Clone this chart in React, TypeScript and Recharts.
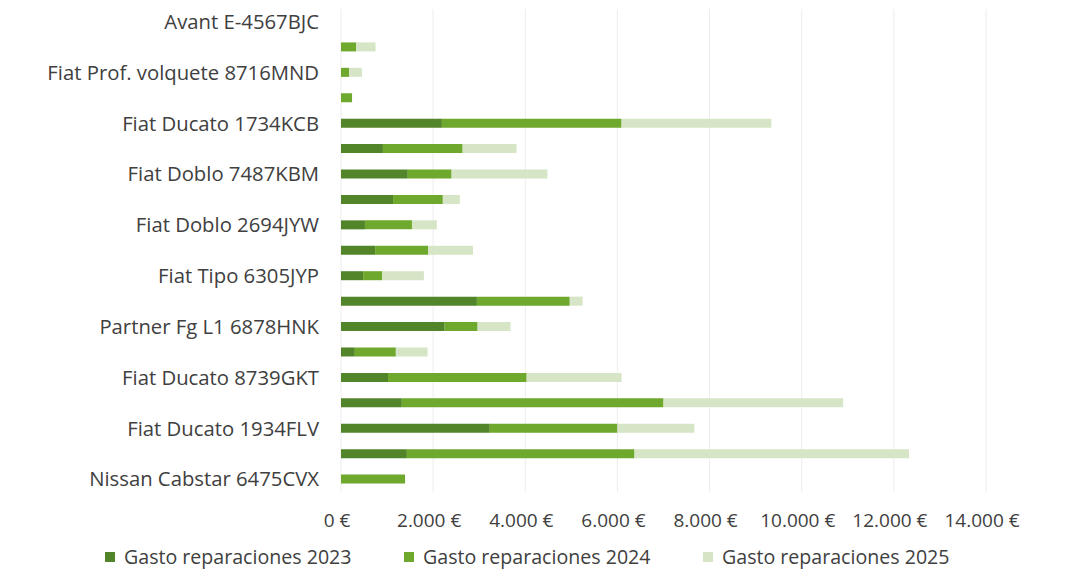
import React from 'react';
import { BarChart, Bar, XAxis, YAxis, CartesianGrid, Legend } from 'recharts';

// vehicles, top to bottom (only every other name is printed on the axis)
const vehicles = [
  'Avant E-4567BJC',
  'Vehículo 02',
  'Fiat Prof. volquete 8716MND',
  'Vehículo 04',
  'Fiat Ducato 1734KCB',
  'Vehículo 06',
  'Fiat Doblo 7487KBM',
  'Vehículo 08',
  'Fiat Doblo 2694JYW',
  'Vehículo 10',
  'Fiat Tipo 6305JYP',
  'Vehículo 12',
  'Partner Fg L1 6878HNK',
  'Vehículo 14',
  'Fiat Ducato 8739GKT',
  'Vehículo 16',
  'Fiat Ducato 1934FLV',
  'Vehículo 18',
  'Nissan Cabstar 6475CVX',
];

const gasto2023 = [0, 0, 0, 0, 2190, 910, 1450, 1130, 520, 740, 480, 2950, 2250, 300, 1020, 1320, 3230, 1430, 0];
const gasto2024 = [0, 330, 175, 240, 3900, 1730, 950, 1080, 1020, 1150, 410, 2015, 715, 890, 3010, 5680, 2770, 4940, 1390];
const gasto2025 = [0, 420, 280, 0, 3250, 1170, 2080, 370, 540, 975, 910, 280, 715, 690, 2060, 3900, 1670, 5960, 0];

const xTicks = [0, 2000, 4000, 6000, 8000, 10000, 12000, 14000];

const series = [
  { key: 'g2023', name: 'Gasto reparaciones 2023', color: '#52852a' },
  { key: 'g2024', name: 'Gasto reparaciones 2024', color: '#6ea82c' },
  { key: 'g2025', name: 'Gasto reparaciones 2025', color: '#d6e5c6' },
];

const FONT = '"Open Sans", "DejaVu Sans", sans-serif';

const euro = (v: number) => String(v).replace(/\B(?=(\d{3})+(?!\d))/g, '.') + ' €';

const data = vehicles.map((name, i) => ({
  name,
  g2023: gasto2023[i],
  g2024: gasto2024[i],
  g2025: gasto2025[i],
}));

const renderLegend = () => (
  <div style={{ display: 'flex', paddingLeft: 105, fontFamily: FONT, fontSize: 19.6, color: '#404040' }}>
    {series.map(s => (
      <div key={s.key} style={{ width: 299, display: 'flex', alignItems: 'center', gap: 9 }}>
        <span style={{ width: 10, height: 10, background: s.color, display: 'inline-block' }} />
        <span>{s.name}</span>
      </div>
    ))}
  </div>
);

export default function App() {
  return (
    <div style={{ position: 'absolute', left: 0, top: 0, width: 1072, height: 573, background: '#fff' }}>
      <BarChart
        width={1072}
        height={573}
        data={data}
        layout="vertical"
        margin={{ top: 9, right: 86, bottom: 41, left: 0 }}
        barCategoryGap={0}
      >
        <CartesianGrid horizontal={false} stroke="#ececec" />
        <XAxis
          type="number"
          domain={[0, 14000]}
          ticks={xTicks}
          tickFormatter={euro}
          axisLine={false}
          tickLine={false}
          tickSize={0}
          tickMargin={22}
          height={40}
          tick={{ fontFamily: FONT, fontSize: 19, fill: '#404040', dx: -4 }}
        />
        <YAxis
          type="category"
          dataKey="name"
          width={341}
          interval={1}
          axisLine={false}
          tickLine={false}
          tickSize={0}
          tickMargin={22}
          tick={{ fontFamily: FONT, fontSize: 20.3, fill: '#404040' }}
        />
        <Legend
          layout="horizontal"
          verticalAlign="middle"
          align="center"
          content={renderLegend}
          wrapperStyle={{ top: 543, left: 0, width: 1072 }}
        />
        {series.map(s => (
          <Bar
            key={s.key}
            dataKey={s.key}
            name={s.name}
            stackId="gasto"
            fill={s.color}
            barSize={9}
            isAnimationActive={false}
          />
        ))}
      </BarChart>
    </div>
  );
}
